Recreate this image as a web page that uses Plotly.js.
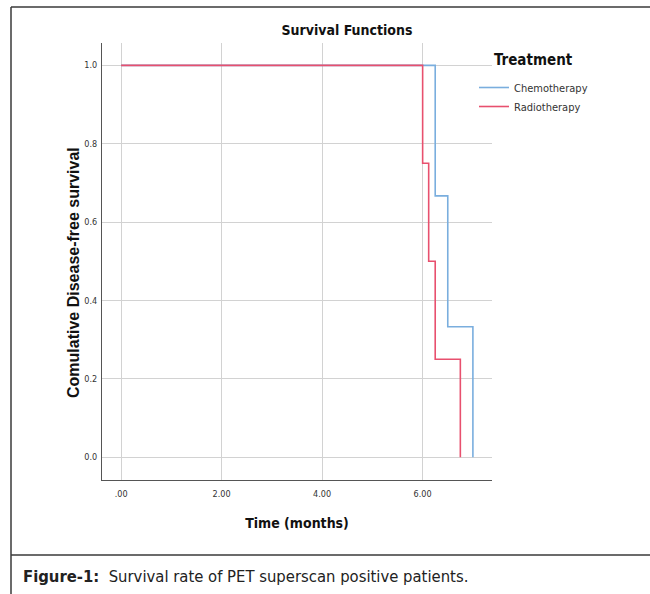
<!DOCTYPE html>
<html>
<head>
<meta charset="utf-8">
<script src="https://cdn.plot.ly/plotly-3.0.1.min.js"></script>
<style>html,body{margin:0;padding:0;background:#fff;}#chart{width:650px;height:594px;}</style>
</head>
<body>
<div id="chart"></div>
<script>
// Data
const chemoTime = [0, 6.25, 6.5, 7.0];
const chemoSurv = [1.0, 0.667, 0.333, 0.0];
const radioTime = [0, 6.0, 6.12, 6.25, 6.75];
const radioSurv = [1.0, 0.75, 0.5, 0.25, 0.0];
const xTickVals = [0, 2, 4, 6];
const xTickText = ['.00', '2.00', '4.00', '6.00'];
const yTickVals = [0, 0.2, 0.4, 0.6, 0.8, 1.0];
const yTickText = ['0.0', '0.2', '0.4', '0.6', '0.8', '1.0'];

const narrow = '"DejaVu Sans Condensed", "Liberation Sans Narrow", Arial, sans-serif';
const sans = '"Liberation Sans", Arial, sans-serif';

const traces = [
  {x: chemoTime, y: chemoSurv, mode: 'lines', line: {shape: 'hv', color: '#7aaede', width: 1.6}, name: 'Chemotherapy'},
  {x: radioTime, y: radioSurv, mode: 'lines', line: {shape: 'hv', color: '#e8506e', width: 1.6}, name: 'Radiotherapy'}
];

const frameColor = '#3a3a3a';
const px = v => (v - 102) / 390;   // pixel -> paper x
const py = v => (480 - v) / 437;   // pixel -> paper y

const layout = {
  width: 650, height: 594,
  margin: {l: 102, r: 158, t: 43, b: 114},
  paper_bgcolor: '#fff', plot_bgcolor: '#fff',
  showlegend: true,
  legend: {
    x: px(474), y: py(73), xanchor: 'left', yanchor: 'top',
    font: {family: narrow, size: 11, color: '#333'},
    itemwidth: 30, tracegroupgap: 0, bgcolor: 'rgba(0,0,0,0)'
  },
  title: {text: '<b>Survival Functions</b>', font: {family: narrow, size: 14, color: '#111'}, x: px(347), xref: 'paper', xanchor: 'center', y: 1 - 30/594, yanchor: 'middle'},
  xaxis: {
    range: [-0.38, 7.38], tickvals: xTickVals, ticktext: xTickText,
    showgrid: true, gridcolor: '#d2d2d2', gridwidth: 1, zeroline: false,
    showline: true, linecolor: '#555', linewidth: 1, ticks: '', ticklabelstandoff: 5,
    tickfont: {family: narrow, size: 9, color: '#333'},
    title: {text: '<b>Time (months)</b>', font: {family: narrow, size: 14, color: '#111'}, standoff: 20}
  },
  yaxis: {
    range: [-0.058, 1.057], tickvals: yTickVals, ticktext: yTickText,
    showgrid: true, gridcolor: '#d2d2d2', gridwidth: 1, zeroline: false,
    showline: true, linecolor: '#555', linewidth: 1, ticks: '', ticklabelstandoff: 2,
    tickfont: {family: narrow, size: 9, color: '#333'}
  },
  shapes: [
    {type: 'line', xref: 'paper', yref: 'paper', x0: px(11), x1: px(652), y0: py(7), y1: py(7), line: {color: frameColor, width: 1.5}},
    {type: 'line', xref: 'paper', yref: 'paper', x0: px(11), x1: px(11), y0: py(7), y1: py(600), line: {color: frameColor, width: 1.5}},
    {type: 'line', xref: 'paper', yref: 'paper', x0: px(11), x1: px(652), y0: py(555), y1: py(555), line: {color: frameColor, width: 1.5}}
  ],
  annotations: [
    {xref: 'paper', yref: 'paper', x: px(73), y: py(273), xanchor: 'center', yanchor: 'middle', textangle: -90, showarrow: false,
     text: '<b>Comulative Disease-free survival</b>', font: {family: sans, size: 16, color: '#111'}},
    {xref: 'paper', yref: 'paper', x: px(533), y: py(60), xanchor: 'center', yanchor: 'middle', showarrow: false,
     text: '<b>Treatment</b>', font: {family: narrow, size: 15, color: '#111'}},
    {xref: 'paper', yref: 'paper', x: px(21), y: py(576), xanchor: 'left', yanchor: 'middle', showarrow: false,
     text: '<b>Figure-1:</b>  Survival rate of PET superscan positive patients.', font: {family: narrow, size: 16.5, color: '#222'}}
  ]
};

Plotly.newPlot('chart', traces, layout, {displayModeBar: false, staticPlot: true});
</script>
</body>
</html>
